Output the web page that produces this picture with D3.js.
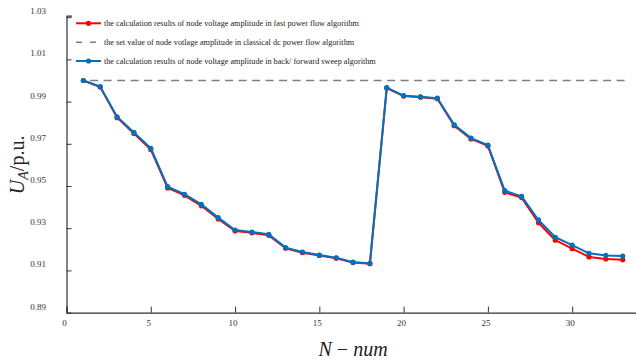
<!DOCTYPE html>
<html>
<head>
<meta charset="utf-8">
<script src="https://cdn.jsdelivr.net/npm/d3@7"></script>
<style>
  body { margin: 0; background: #fff; }
  svg { display: block; }
  text { font-family: "Liberation Serif", "Times New Roman", serif; }
</style>
</head>
<body>
<div id="chart"></div>
<script>
// node index 1..33
const nodes = d3.range(1, 34);
// back/forward sweep results (blue)
const sweepValues = [1.0000, 0.9971, 0.9828, 0.9754, 0.9679, 0.9497, 0.9461, 0.9413, 0.9350, 0.9291,
    0.9282, 0.9271, 0.9208, 0.9187, 0.9173, 0.9160, 0.9139, 0.9134, 0.9966, 0.9928,
    0.9923, 0.9916, 0.9790, 0.9727, 0.9694, 0.9478, 0.9451, 0.9339, 0.9257, 0.9220,
    0.9181, 0.9171, 0.9168];
// fast power flow results (red)
const fastValues = [1.0000, 0.9969, 0.9824, 0.9749, 0.9673, 0.9491, 0.9456, 0.9406, 0.9344, 0.9287,
    0.9278, 0.9266, 0.9205, 0.9184, 0.9171, 0.9158, 0.9137, 0.9132, 0.9964, 0.9926,
    0.9921, 0.9914, 0.9786, 0.9723, 0.9690, 0.9470, 0.9445, 0.9326, 0.9243, 0.9203,
    0.9164, 0.9154, 0.9150];
// set value in classical dc power flow
const setValue = 1.0;
const yTicks = [0.89, 0.91, 0.93, 0.95, 0.97, 0.99, 1.01, 1.03];
const xTicks = [0, 5, 10, 15, 20, 25, 30];
const legendLabels = [
    'the calculation results of node voltage amplitude in fast power flow algorithm',
    'the set value of node votlage amplitude in classical dc power flow algorithm',
    'the calculation results of node voltage amplitude in back/ forward sweep algorithm'
];

const width = 636, height = 359;
const red = '#ff0000', blue = '#0072bd', grey = '#7f7f7f', axisColor = '#333';

const svg = d3.select('#chart').append('svg')
    .attr('width', width)
    .attr('height', height);

const x = d3.scaleLinear().domain([0, 34]).range([66.5, 639.6]);
const y = d3.scaleLinear().domain([0.89, 1.03]).range([312.6, 17.2]);

// axes: inner ticks
const xAxis = svg.append('g')
    .attr('transform', `translate(0,${y(0.89)})`)
    .call(d3.axisTop(x).tickValues(xTicks).tickSize(6).tickFormat(''));
const yAxis = svg.append('g')
    .attr('transform', `translate(${x(0)},0)`)
    .call(d3.axisRight(y).tickValues(yTicks).tickSize(5).tickFormat(''));
[xAxis, yAxis].forEach(g => {
    g.select('.domain').attr('stroke', axisColor).attr('stroke-width', 1.2);
    g.selectAll('.tick line').attr('stroke', axisColor).attr('stroke-width', 1);
});
yAxis.select('.domain').attr('d', `M5.5,${y(1.03) - 1}H0.5V${y(0.89)}`);

// tick labels
svg.append('g').selectAll('text')
    .data(xTicks).join('text')
    .attr('x', d => x(d) - 2)
    .attr('y', 326)
    .attr('text-anchor', 'middle')
    .attr('font-size', 9)
    .attr('fill', '#333')
    .text(d => d);
svg.append('g').selectAll('text')
    .data(yTicks).join('text')
    .attr('x', 46)
    .attr('y', d => y(d) - 3)
    .attr('text-anchor', 'end')
    .attr('font-size', 9)
    .attr('fill', '#333')
    .text(d => d3.format('.2f')(d));

// axis titles
svg.append('text')
    .attr('x', x(17))
    .attr('y', 356)
    .attr('text-anchor', 'middle')
    .attr('font-size', 20)
    .attr('fill', '#222')
    .html('<tspan font-style="italic">N</tspan> − <tspan font-style="italic">num</tspan>');
const yTitle = svg.append('text')
    .attr('transform', `translate(24,${(y(0.89) + y(1.03)) / 2}) rotate(-90)`)
    .attr('text-anchor', 'middle')
    .attr('font-size', 20)
    .attr('fill', '#222');
yTitle.append('tspan').attr('font-style', 'italic').text('U');
yTitle.append('tspan').attr('font-style', 'italic').attr('font-size', 14).attr('dy', 4).text('A');
yTitle.append('tspan').attr('dy', -4).text('/p.u.');

// set value dashed line
svg.append('line')
    .attr('x1', x(1.4)).attr('x2', x(33.2))
    .attr('y1', y(setValue)).attr('y2', y(setValue))
    .attr('stroke', grey)
    .attr('stroke-width', 1.6)
    .attr('stroke-dasharray', '8,5.5');

const line = d3.line().x((d, i) => x(nodes[i])).y(d => y(d));

function drawSeries(values, color) {
    svg.append('path')
        .datum(values)
        .attr('d', line)
        .attr('fill', 'none')
        .attr('stroke', color)
        .attr('stroke-width', 2)
        .attr('stroke-linejoin', 'round');
    svg.append('g').selectAll('circle')
        .data(values).join('circle')
        .attr('cx', (d, i) => x(nodes[i]))
        .attr('cy', d => y(d))
        .attr('r', 2.6)
        .attr('fill', color);
}
drawSeries(fastValues, red);
drawSeries(sweepValues, blue);

// legend
const legendY = [23.3, 42.3, 61];
const legend = svg.append('g');
legendLabels.forEach((label, i) => {
    const g = legend.append('g').attr('transform', `translate(0,${legendY[i]})`);
    if (i === 1) {
        g.append('line').attr('x1', 76).attr('x2', 101)
            .attr('stroke', grey).attr('stroke-width', 1.6)
            .attr('stroke-dasharray', '6,8');
    } else {
        const c = i === 0 ? red : blue;
        g.append('line').attr('x1', 76).attr('x2', 101)
            .attr('stroke', c).attr('stroke-width', 2);
        g.append('circle').attr('cx', 88.5).attr('r', 2.6).attr('fill', c);
    }
    g.append('text')
        .attr('x', 104)
        .attr('y', 2.9)
        .attr('font-size', 8.2)
        .attr('fill', '#222')
        .text(label);
});
</script>
</body>
</html>
